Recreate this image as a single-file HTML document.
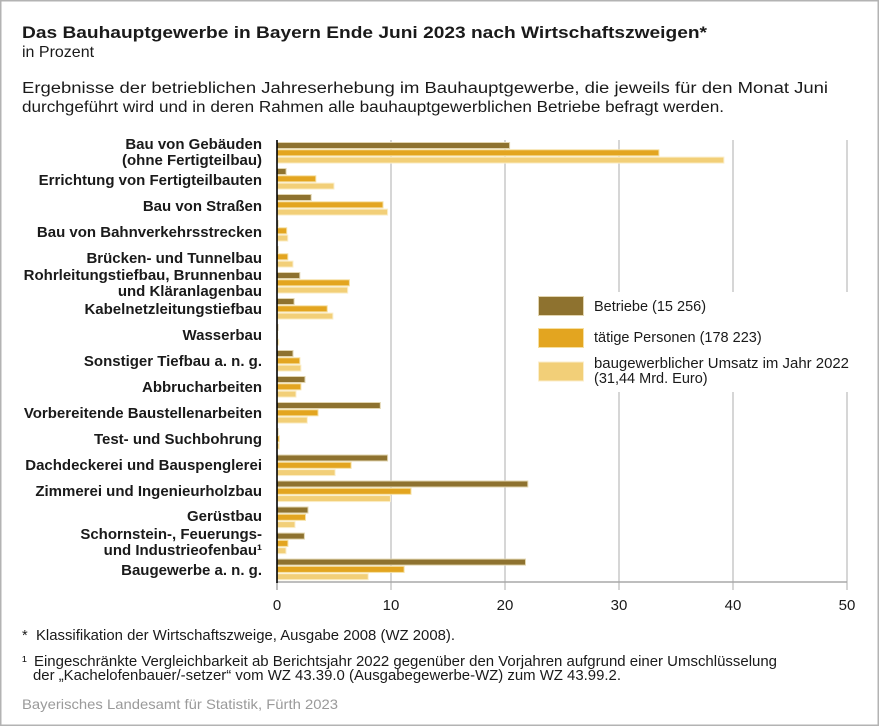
<!DOCTYPE html>
<html><head><meta charset="utf-8"><style>
html,body{margin:0;padding:0;background:#fff;}
svg{display:block;}
text{font-family:"Liberation Sans",Arial,sans-serif;fill:#1a1a1a;}
.lb{font-weight:bold;font-size:15px;text-anchor:end;}
.tk{font-size:15px;text-anchor:middle;}
.lg{font-size:14.5px;}
.fn{font-size:14.5px;}
</style></head><body>
<svg width="880" height="727" viewBox="0 0 880 727" xmlns="http://www.w3.org/2000/svg">
<rect x="0" y="0" width="880" height="727" fill="#fff"/>
<rect x="0.75" y="0.75" width="877.5" height="724.5" fill="none" stroke="#b3b3b3" stroke-width="1.5"/>

<text x="22" y="38" font-weight="bold" font-size="16.5" textLength="685" lengthAdjust="spacingAndGlyphs">Das Bauhauptgewerbe in Bayern Ende Juni 2023 nach Wirtschaftszweigen*</text>
<text x="22" y="57" font-size="16">in Prozent</text>
<text x="22" y="93" font-size="15.5" textLength="806" lengthAdjust="spacingAndGlyphs">Ergebnisse der betrieblichen Jahreserhebung im Bauhauptgewerbe, die jeweils für den Monat Juni</text>
<text x="22" y="112" font-size="15.5" textLength="702" lengthAdjust="spacingAndGlyphs">durchgeführt wird und in deren Rahmen alle bauhauptgewerblichen Betriebe befragt werden.</text>

<!-- gridlines -->
<g stroke="#c8c8c8" stroke-width="1.5">
<line x1="391" y1="140" x2="391" y2="590"/>
<line x1="505" y1="140" x2="505" y2="590"/>
<line x1="619" y1="140" x2="619" y2="590"/>
<line x1="733" y1="140" x2="733" y2="590"/>
<line x1="847" y1="140" x2="847" y2="590"/>
<line x1="277" y1="582" x2="847" y2="582" stroke="#a8a8a8"/>
<line x1="277" y1="582" x2="277" y2="590" stroke="#a8a8a8"/>
</g>

<!-- legend box covering gridlines -->
<rect x="532" y="292" width="332" height="100" fill="#fff"/>

<!-- bars -->
<g stroke-width="1">
<rect x="277" y="142.5" width="232.6" height="6" fill="#8e722f" stroke="#e2d5b0"/>
<rect x="277" y="149.8" width="381.9" height="6" fill="#e3a520" stroke="#f6dfa0"/>
<rect x="277" y="157.1" width="446.9" height="6" fill="#f2cf78" stroke="#fbeecb"/>
<rect x="277" y="168.5" width="9.1" height="6" fill="#8e722f" stroke="#e2d5b0"/>
<rect x="277" y="175.8" width="38.8" height="6" fill="#e3a520" stroke="#f6dfa0"/>
<rect x="277" y="183.1" width="57.0" height="6" fill="#f2cf78" stroke="#fbeecb"/>
<rect x="277" y="194.5" width="34.2" height="6" fill="#8e722f" stroke="#e2d5b0"/>
<rect x="277" y="201.8" width="106.0" height="6" fill="#e3a520" stroke="#f6dfa0"/>
<rect x="277" y="209.1" width="110.6" height="6" fill="#f2cf78" stroke="#fbeecb"/>
<rect x="277" y="220.5" width="1.1" height="6" fill="#8e722f" stroke="#e2d5b0"/>
<rect x="277" y="227.8" width="9.7" height="6" fill="#e3a520" stroke="#f6dfa0"/>
<rect x="277" y="235.1" width="10.8" height="6" fill="#f2cf78" stroke="#fbeecb"/>
<rect x="277" y="246.5" width="1.1" height="6" fill="#8e722f" stroke="#e2d5b0"/>
<rect x="277" y="253.8" width="10.8" height="6" fill="#e3a520" stroke="#f6dfa0"/>
<rect x="277" y="261.1" width="16.0" height="6" fill="#f2cf78" stroke="#fbeecb"/>
<rect x="277" y="272.5" width="22.8" height="6" fill="#8e722f" stroke="#e2d5b0"/>
<rect x="277" y="279.8" width="72.4" height="6" fill="#e3a520" stroke="#f6dfa0"/>
<rect x="277" y="287.1" width="70.7" height="6" fill="#f2cf78" stroke="#fbeecb"/>
<rect x="277" y="298.5" width="17.1" height="6" fill="#8e722f" stroke="#e2d5b0"/>
<rect x="277" y="305.8" width="50.2" height="6" fill="#e3a520" stroke="#f6dfa0"/>
<rect x="277" y="313.1" width="55.9" height="6" fill="#f2cf78" stroke="#fbeecb"/>
<rect x="277" y="324.5" width="1.1" height="6" fill="#8e722f" stroke="#e2d5b0"/>
<rect x="277" y="331.8" width="0.6" height="6" fill="#e3a520" stroke="#f6dfa0"/>
<rect x="277" y="339.1" width="1.7" height="6" fill="#f2cf78" stroke="#fbeecb"/>
<rect x="277" y="350.5" width="16.0" height="6" fill="#8e722f" stroke="#e2d5b0"/>
<rect x="277" y="357.8" width="22.8" height="6" fill="#e3a520" stroke="#f6dfa0"/>
<rect x="277" y="365.1" width="23.9" height="6" fill="#f2cf78" stroke="#fbeecb"/>
<rect x="277" y="376.5" width="28.0" height="6" fill="#8e722f" stroke="#e2d5b0"/>
<rect x="277" y="383.8" width="23.9" height="6" fill="#e3a520" stroke="#f6dfa0"/>
<rect x="277" y="391.1" width="19.0" height="6" fill="#f2cf78" stroke="#fbeecb"/>
<rect x="277" y="402.5" width="103.3" height="6" fill="#8e722f" stroke="#e2d5b0"/>
<rect x="277" y="409.8" width="41.0" height="6" fill="#e3a520" stroke="#f6dfa0"/>
<rect x="277" y="417.1" width="30.3" height="6" fill="#f2cf78" stroke="#fbeecb"/>
<rect x="277" y="428.5" width="1.1" height="6" fill="#8e722f" stroke="#e2d5b0"/>
<rect x="277" y="435.8" width="2.3" height="6" fill="#e3a520" stroke="#f6dfa0"/>
<rect x="277" y="443.1" width="2.3" height="6" fill="#f2cf78" stroke="#fbeecb"/>
<rect x="277" y="455" width="110.6" height="6" fill="#8e722f" stroke="#e2d5b0"/>
<rect x="277" y="462.3" width="74.1" height="6" fill="#e3a520" stroke="#f6dfa0"/>
<rect x="277" y="469.6" width="58.1" height="6" fill="#f2cf78" stroke="#fbeecb"/>
<rect x="277" y="481" width="250.8" height="6" fill="#8e722f" stroke="#e2d5b0"/>
<rect x="277" y="488.3" width="134.0" height="6" fill="#e3a520" stroke="#f6dfa0"/>
<rect x="277" y="495.6" width="113.4" height="6" fill="#f2cf78" stroke="#fbeecb"/>
<rect x="277" y="507" width="31.0" height="6" fill="#8e722f" stroke="#e2d5b0"/>
<rect x="277" y="514.3" width="28.5" height="6" fill="#e3a520" stroke="#f6dfa0"/>
<rect x="277" y="521.6" width="18.0" height="6" fill="#f2cf78" stroke="#fbeecb"/>
<rect x="277" y="533.1" width="27.4" height="6" fill="#8e722f" stroke="#e2d5b0"/>
<rect x="277" y="540.4" width="10.9" height="6" fill="#e3a520" stroke="#f6dfa0"/>
<rect x="277" y="547.7" width="9.0" height="6" fill="#f2cf78" stroke="#fbeecb"/>
<rect x="277" y="559.1" width="248.5" height="6" fill="#8e722f" stroke="#e2d5b0"/>
<rect x="277" y="566.4" width="127.1" height="6" fill="#e3a520" stroke="#f6dfa0"/>
<rect x="277" y="573.7" width="91.2" height="6" fill="#f2cf78" stroke="#fbeecb"/>
</g>

<!-- y axis -->
<line x1="277" y1="140" x2="277" y2="583" stroke="#000" stroke-width="1.6"/>

<!-- category labels -->
<text class="lb" x="262" y="149">Bau von Gebäuden</text>
<text class="lb" x="262" y="165">(ohne Fertigteilbau)</text>
<text class="lb" x="262" y="185">Errichtung von Fertigteilbauten</text>
<text class="lb" x="262" y="211">Bau von Straßen</text>
<text class="lb" x="262" y="237">Bau von Bahnverkehrsstrecken</text>
<text class="lb" x="262" y="263">Brücken- und Tunnelbau</text>
<text class="lb" x="262" y="280">Rohrleitungstiefbau, Brunnenbau</text>
<text class="lb" x="262" y="296">und Kläranlagenbau</text>
<text class="lb" x="262" y="314">Kabelnetzleitungstiefbau</text>
<text class="lb" x="262" y="340">Wasserbau</text>
<text class="lb" x="262" y="366">Sonstiger Tiefbau a. n. g.</text>
<text class="lb" x="262" y="392">Abbrucharbeiten</text>
<text class="lb" x="262" y="418">Vorbereitende Baustellenarbeiten</text>
<text class="lb" x="262" y="444">Test- und Suchbohrung</text>
<text class="lb" x="262" y="470">Dachdeckerei und Bauspenglerei</text>
<text class="lb" x="262" y="496">Zimmerei und Ingenieurholzbau</text>
<text class="lb" x="262" y="521">Gerüstbau</text>
<text class="lb" x="262" y="539">Schornstein-, Feuerungs-</text>
<text class="lb" x="262" y="555">und Industrieofenbau¹</text>
<text class="lb" x="262" y="575">Baugewerbe a. n. g.</text>

<!-- tick labels -->
<text class="tk" x="277" y="610">0</text>
<text class="tk" x="391" y="610">10</text>
<text class="tk" x="505" y="610">20</text>
<text class="tk" x="619" y="610">30</text>
<text class="tk" x="733" y="610">40</text>
<text class="tk" x="847" y="610">50</text>

<!-- legend -->
<rect x="538.5" y="296.5" width="45" height="19" fill="#8e722f" stroke="#e2d5b0" stroke-width="1"/>
<rect x="538.5" y="328.5" width="45" height="19" fill="#e3a520" stroke="#f6dfa0" stroke-width="1"/>
<rect x="538.5" y="362" width="45" height="19" fill="#f2cf78" stroke="#fbeecb" stroke-width="1"/>
<text class="lg" x="594" y="311">Betriebe (15 256)</text>
<text class="lg" x="594" y="342">tätige Personen (178 223)</text>
<text class="lg" x="594" y="368" textLength="255" lengthAdjust="spacingAndGlyphs">baugewerblicher Umsatz im Jahr 2022</text>
<text class="lg" x="594" y="383">(31,44 Mrd. Euro)</text>

<!-- footnotes -->
<text class="fn" x="22" y="640">*</text>
<text class="fn" x="36" y="640" textLength="419" lengthAdjust="spacingAndGlyphs">Klassifikation der Wirtschaftszweige, Ausgabe 2008 (WZ 2008).</text>
<text class="fn" x="22" y="666">¹</text>
<text class="fn" x="34" y="666" textLength="743" lengthAdjust="spacingAndGlyphs">Eingeschränkte Vergleichbarkeit ab Berichtsjahr 2022 gegenüber den Vorjahren aufgrund einer Umschlüsselung</text>
<text class="fn" x="33" y="680" textLength="588" lengthAdjust="spacingAndGlyphs">der „Kachelofenbauer/-setzer“ vom WZ 43.39.0 (Ausgabegewerbe-WZ) zum WZ 43.99.2.</text>
<text x="22" y="709" font-size="14" style="fill:#9a9a9a" textLength="316" lengthAdjust="spacingAndGlyphs">Bayerisches Landesamt für Statistik, Fürth 2023</text>
</svg>
</body></html>
